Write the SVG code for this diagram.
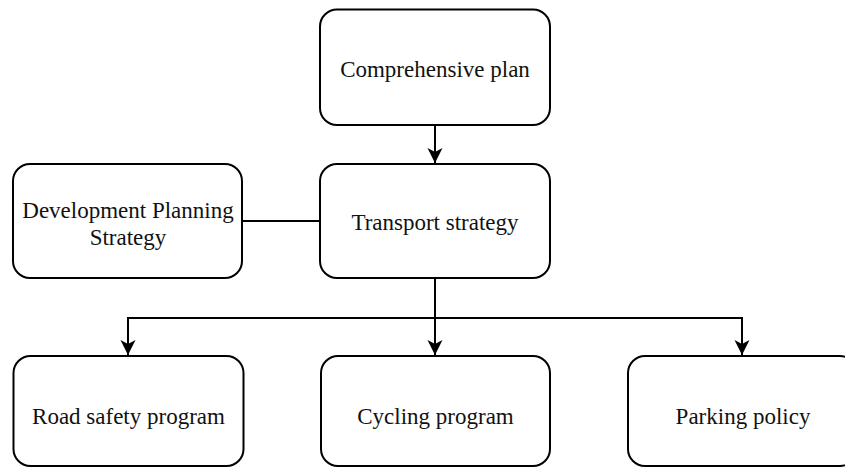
<svg xmlns="http://www.w3.org/2000/svg" width="845" height="468" viewBox="0 0 845 468">
<style>
.box{fill:#fff;stroke:#000;stroke-width:2}
.lbl{font-family:"Liberation Serif","Times New Roman",serif;font-size:23px;fill:#111;text-anchor:middle}
.edge{fill:none;stroke:#000;stroke-width:2}
</style>
<defs>
<marker id="arr" viewBox="0 0 16 16" refX="15" refY="8" markerWidth="16" markerHeight="16" markerUnits="userSpaceOnUse" orient="auto">
<path d="M0,0.5 L15,8 L0,15.5 L4,8 Z" fill="#000"/>
</marker>
</defs>
<rect width="845" height="468" fill="#fff"/>
<g id="edges">
<path class="edge" d="M435,125 V163" marker-end="url(#arr)"/>
<path class="edge" d="M242,221 H320"/>
<path class="edge" d="M435,278 V318 H128 V355" marker-end="url(#arr)"/>
<path class="edge" d="M435,318 V355" marker-end="url(#arr)"/>
<path class="edge" d="M435,318 H742 V355" marker-end="url(#arr)"/>
</g>
<g id="comprehensive-plan">
<rect class="box" x="320" y="9.5" width="230" height="115.5" rx="17"/>
<text class="lbl" x="435" y="77">Comprehensive plan</text>
</g>
<g id="transport-strategy">
<rect class="box" x="320" y="164" width="230" height="114" rx="17"/>
<text class="lbl" x="435" y="230">Transport strategy</text>
</g>
<g id="development-planning-strategy">
<rect class="box" x="13" y="164" width="229" height="114" rx="17"/>
<text class="lbl" x="128" y="218">Development Planning</text>
<text class="lbl" x="128" y="245">Strategy</text>
</g>
<g id="road-safety-program">
<rect class="box" x="13.5" y="356" width="230" height="110" rx="17"/>
<text class="lbl" x="128.5" y="424">Road safety program</text>
</g>
<g id="cycling-program">
<rect class="box" x="321" y="356" width="229" height="110" rx="17"/>
<text class="lbl" x="435.5" y="424">Cycling program</text>
</g>
<g id="parking-policy">
<rect class="box" x="628" y="356" width="229" height="110" rx="17"/>
<text class="lbl" x="743" y="424">Parking policy</text>
</g>
</svg>
